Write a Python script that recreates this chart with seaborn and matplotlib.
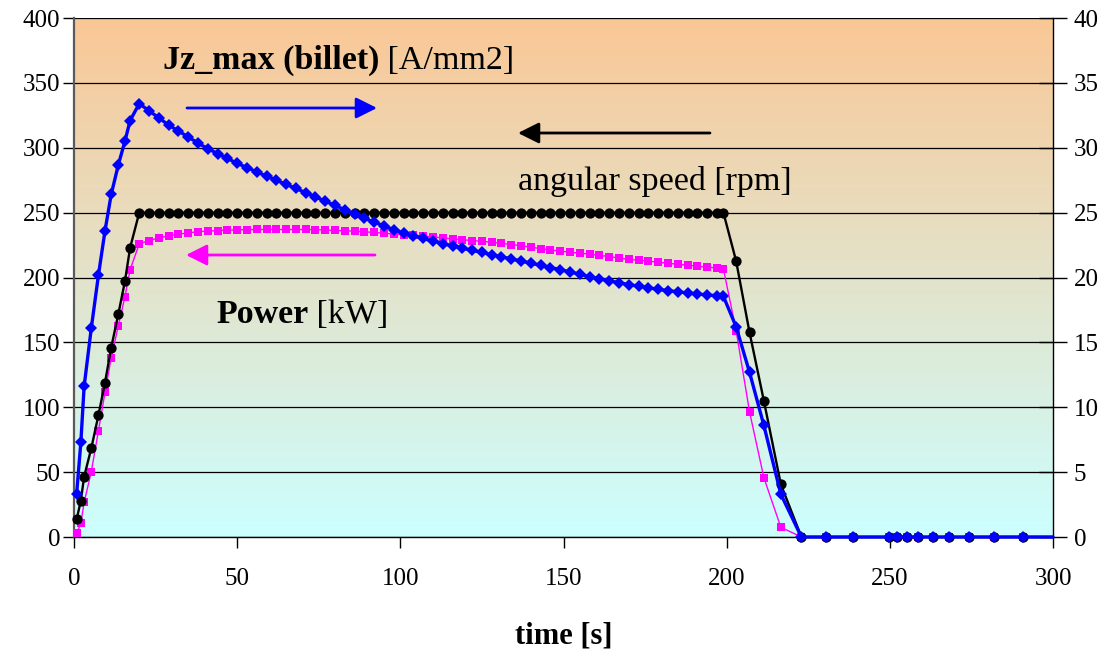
import numpy as np
import pandas as pd
import matplotlib
matplotlib.use("Agg")
import matplotlib.pyplot as plt
import seaborn as sns
from matplotlib.colors import LinearSegmentedColormap

# ---------------- data ----------------
time_s = [0.8, 2.1, 3.1, 5.3, 7.5, 9.5, 11.4, 13.6, 15.6, 17.2,
          20, 23, 26, 29, 32, 35, 38, 41, 44, 47,
          50, 53, 56, 59, 62, 65, 68, 71, 74, 77,
          80, 83, 86, 89, 92, 95, 98, 101, 104, 107,
          110, 113, 116, 119, 122, 125, 128, 131, 134, 137,
          140, 143, 146, 149, 152, 155, 158, 161, 164, 167,
          170, 173, 176, 179, 182, 185, 188, 191, 194, 197, 199,
          202.9, 207.0, 211.4, 216.6, 222.9,
          230.3, 238.8, 249.7, 252.1, 255.2, 258.7, 263.1, 268.2, 274.4, 281.8, 290.9,
          300]

speed_rpm = [13.6, 28, 46.5, 68.4, 94, 119, 146, 172, 197, 223,
             250, 250, 250, 250, 250, 250, 250, 250, 250, 250,
             250, 250, 250, 250, 250, 250, 250, 250, 250, 250,
             250, 250, 250, 250, 250, 250, 250, 250, 250, 250,
             250, 250, 250, 250, 250, 250, 250, 250, 250, 250,
             250, 250, 250, 250, 250, 250, 250, 250, 250, 250,
             250, 250, 250, 250, 250, 250, 250, 250, 250, 250, 250,
             212.7, 157.8, 105, 40.6, 0,
             0, 0, 0, 0, 0, 0, 0, 0, 0, 0, 0,
             0]

power_kw = [2.8, 10.6, 26.7, 50.3, 82, 111.5, 138, 163, 185, 206,
            226, 228.5, 230.5, 232.2, 233.4, 234.4, 235.3, 235.8, 236.2, 236.5,
            236.7, 236.9, 237, 237, 237, 237, 237, 237, 236.8, 236.6,
            236.3, 236, 235.7, 235.2, 234.7, 234.1, 233.5, 233.0, 232.5, 232,
            231.3, 230.5, 229.7, 229.1, 228.5, 227.9, 227.1, 226.3, 225.4, 224.5,
            223.4, 222.2, 221.2, 220.4, 219.5, 218.8, 218, 217.1, 216.1, 215,
            214, 213.3, 212.6, 211.8, 211, 210.2, 209.5, 208.7, 208, 207.3, 206.8,
            159, 96.6, 45.7, 7.5, 0,
            0, 0, 0, 0, 0, 0, 0, 0, 0, 0, 0,
            0]

jz_max = [3.3, 7.3, 11.6, 16.1, 20.2, 23.6, 26.4, 28.7, 30.5, 32.1,
          33.4, 32.85, 32.3, 31.75, 31.29, 30.83, 30.36, 29.93, 29.55, 29.18,
          28.8, 28.47, 28.14, 27.81, 27.49, 27.18, 26.86, 26.54, 26.21, 25.88,
          25.55, 25.22, 24.89, 24.56, 24.26, 23.98, 23.69, 23.43, 23.22, 23.01,
          22.8, 22.62, 22.44, 22.26, 22.09, 21.93, 21.76, 21.6, 21.43, 21.27,
          21.1, 20.94, 20.77, 20.61, 20.43, 20.25, 20.07, 19.9, 19.75, 19.6,
          19.45, 19.33, 19.21, 19.09, 18.99, 18.9, 18.81, 18.73, 18.66, 18.59, 18.55,
          16.2, 12.7, 8.6, 3.3, 0,
          0, 0, 0, 0, 0, 0, 0, 0, 0, 0, 0,
          0]

left_ticks = [0, 50, 100, 150, 200, 250, 300, 350, 400]
right_ticks = [0, 5, 10, 15, 20, 25, 30, 35, 40]
x_ticks = [0, 50, 100, 150, 200, 250, 300]

df = pd.DataFrame({"time": time_s, "speed": speed_rpm,
                   "power": power_kw, "jz": jz_max})

# ---------------- figure ----------------
sns.set_theme(style="white")
plt.rcParams["font.family"] = ["Liberation Serif", "DejaVu Serif"]
plt.rcParams["text.color"] = "black"
plt.rcParams["axes.labelcolor"] = "black"
plt.rcParams["xtick.color"] = "black"
plt.rcParams["ytick.color"] = "black"

W, H = 1109, 649
fig = plt.figure(figsize=(W / 100, H / 100), dpi=100)
L, R, T, B = 74, 1053, 18, 537
ax = fig.add_axes([L / W, 1 - B / H, (R - L) / W, (B - T) / H])
ax.set_xlim(0, 300)
ax.set_ylim(0, 400)

# gradient background (peach -> light turquoise)
cmap = LinearSegmentedColormap.from_list("bg", ["#CCFFFF", "#FAC796"])
grad = np.linspace(0, 1, 256).reshape(-1, 1)
ax.imshow(grad, extent=[0, 300, 0, 400], origin="lower", aspect="auto",
          cmap=cmap, zorder=0, interpolation="bilinear")

ax.set_yticks(left_ticks)
ax.set_xticks(x_ticks)
ax.yaxis.grid(True, color="black", linewidth=0.9, zorder=0.5)
ax.xaxis.grid(False)
ax.set_axisbelow(True)

n = len(df)
mk = list(range(n - 1))

sns.lineplot(data=df, x="time", y="power", ax=ax, color="#FF00FF",
             linewidth=1.0, marker="s", markersize=6.0, markevery=mk,
             markeredgecolor="#FF00FF", markeredgewidth=0, sort=False,
             zorder=3, clip_on=False)
sns.lineplot(data=df, x="time", y="speed", ax=ax, color="black",
             linewidth=1.7, marker="o", markersize=7.4, markevery=mk,
             markeredgecolor="black", markeredgewidth=0, sort=False,
             zorder=4, clip_on=False)

ax2 = ax.twinx()
ax2.set_ylim(0, 40)
ax2.set_yticks(right_ticks)
sns.lineplot(data=df, x="time", y="jz", ax=ax2, color="#0000FF",
             linewidth=2.4, marker="D", markersize=6.3, markevery=mk,
             markeredgecolor="#0000FF", markeredgewidth=0, sort=False,
             zorder=5, clip_on=False)
ax2.set_xlim(0, 300)

tick_fs = 18
ax.tick_params(axis="y", direction="out", length=8, width=1, pad=2,
               labelsize=tick_fs, left=True, colors="black")
ax.tick_params(axis="x", direction="out", length=8, width=1, pad=14,
               labelsize=tick_fs, bottom=True, colors="black")
ax2.tick_params(axis="y", direction="inout", length=20, width=1, pad=5,
                labelsize=tick_fs, right=True, colors="black")
for a in (ax, ax2):
    a.set_ylabel("")
    a.set_xlabel("")
    a.spines["top"].set_visible(False)
ax.spines["left"].set_color("#5a5a5a")
ax.spines["left"].set_linewidth(1.6)
ax.spines["bottom"].set_color("black")
ax.spines["bottom"].set_linewidth(1.0)
ax2.spines["right"].set_color("black")
ax2.spines["right"].set_linewidth(1.0)
ax2.spines["left"].set_visible(False)
ax2.spines["bottom"].set_visible(False)
ax.spines["right"].set_visible(False)

ax.set_xlabel("time [s]", fontsize=22, fontweight="bold", labelpad=23,
              color="black")

# ---------------- annotations ----------------
def px2data(x, y):
    return ((x - L) / (R - L) * 300, (B - y) / (B - T) * 400)

txt_fs = 24.5

def two_part(x, y, bold, regular):
    tx, ty = px2data(x, y)
    t1 = ax.text(tx, ty, bold, fontsize=txt_fs, fontweight="bold",
                 ha="left", va="baseline", zorder=6, color="black")
    ax.annotate(regular, xy=(1, 0), xycoords=t1, fontsize=txt_fs,
                ha="left", va="bottom", zorder=6, color="black")
    return t1

two_part(163, 69, "Jz_max (billet)", " [A/mm2]")
two_part(216, 323, "Power", " [kW]")
ax.text(*px2data(518, 190), "angular speed [rpm]", fontsize=txt_fs,
        ha="left", va="baseline", zorder=6, color="black")

def arrow(x0, x1, y, color):
    ax.annotate("", xy=px2data(x1, y), xytext=px2data(x0, y),
                arrowprops=dict(arrowstyle="-|>,head_length=0.8,head_width=0.4",
                                color=color, lw=2.0, shrinkA=0, shrinkB=0,
                                mutation_scale=16),
                zorder=6)

arrow(187, 377, 108, "#0000FF")
arrow(710, 518, 133, "black")
arrow(375, 186, 255, "#FF00FF")

fig.savefig("out.png", dpi=100)
